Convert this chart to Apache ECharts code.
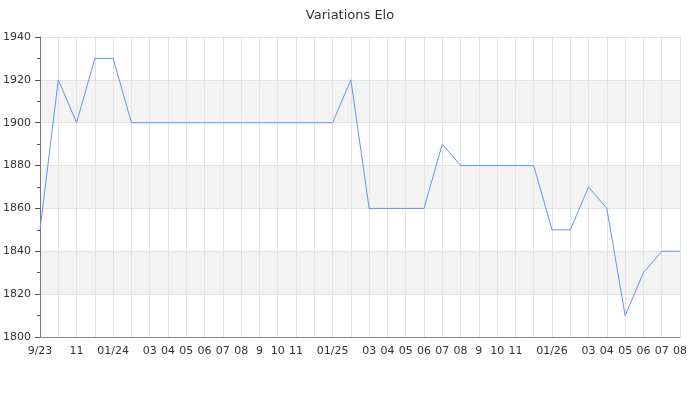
<!DOCTYPE html>
<html>
<head>
<meta charset="utf-8">
<script src="https://cdn.jsdelivr.net/npm/echarts@6/dist/echarts.min.js"></script>
<style>html,body{margin:0;padding:0;background:#fff;}#c{width:700px;height:400px;}</style>
</head>
<body>
<div id="c"></div>
<script>
const months = ['2023-09','2023-10','2023-11','2023-12','2024-01','2024-02','2024-03','2024-04','2024-05','2024-06','2024-07','2024-08','2024-09','2024-10','2024-11','2024-12','2025-01','2025-02','2025-03','2025-04','2025-05','2025-06','2025-07','2025-08','2025-09','2025-10','2025-11','2025-12','2026-01','2026-02','2026-03','2026-04','2026-05','2026-06','2026-07','2026-08'];
const tickLabels = ['9/23','','11','','01/24','','03','04','05','06','07','08','9','10','11','','01/25','','03','04','05','06','07','08','9','10','11','','01/26','','03','04','05','06','07','08'];
const elo = [1850,1920,1900,1930,1930,1900,1900,1900,1900,1900,1900,1900,1900,1900,1900,1900,1900,1920,1860,1860,1860,1860,1890,1880,1880,1880,1880,1880,1850,1850,1870,1860,1810,1830,1840,1840];

const chart = echarts.init(document.getElementById('c'), null, {renderer:'canvas'});
chart.setOption({
  animation: false,
  textStyle: {fontFamily: 'DejaVu Sans'},
  title: {text: 'Variations Elo', left: 'center', top: 4, textStyle: {fontSize: 13, fontWeight: 'normal', color: '#333', fontFamily: 'DejaVu Sans'}},
  grid: {left: 40, right: 20, top: 37, bottom: 63, containLabel: false, outerBoundsMode: 'none'},
  xAxis: {
    type: 'category', data: months, boundaryGap: false,
    axisLine: {show: true, lineStyle: {color: '#888'}},
    axisTick: {show: false},
    axisLabel: {interval: 0, color: '#333', fontSize: 11, margin: 9, formatter: (v, i) => tickLabels[i]},
    splitLine: {show: true, lineStyle: {color: '#e3e3e3', width: 1}}
  },
  yAxis: [{
    type: 'value', min: 1800, max: 1940, interval: 20, position: 'left',
    axisLine: {show: true, onZero: false, lineStyle: {color: '#777', width: 1}},
    axisTick: {show: true, inside: false, length: 5, lineStyle: {color: '#555', width: 1}},
    minorTick: {show: false},
    axisLabel: {color: '#333', fontSize: 11, margin: 9, formatter: v => String(v)},
    splitLine: {show: true, lineStyle: {color: '#e3e3e3'}},
    splitArea: {show: true, areaStyle: {color: ['#ffffff', '#f3f3f3']}}
  }, {
    type: 'value', min: 1800, max: 1940, interval: 10, position: 'left', offset: 0,
    axisLine: {show: false, onZero: false},
    axisTick: {show: true, inside: false, length: 3, lineStyle: {color: '#555', width: 1}},
    minorTick: {show: false},
    axisLabel: {show: false},
    splitLine: {show: false},
    splitArea: {show: false}
  }],
  series: [{
    type: 'line', data: elo, yAxisIndex: 0, showSymbol: false, symbol: 'none',
    lineStyle: {color: '#6495ed', width: 1},
    itemStyle: {color: '#6495ed'}
  }]
});
</script>
</body>
</html>
